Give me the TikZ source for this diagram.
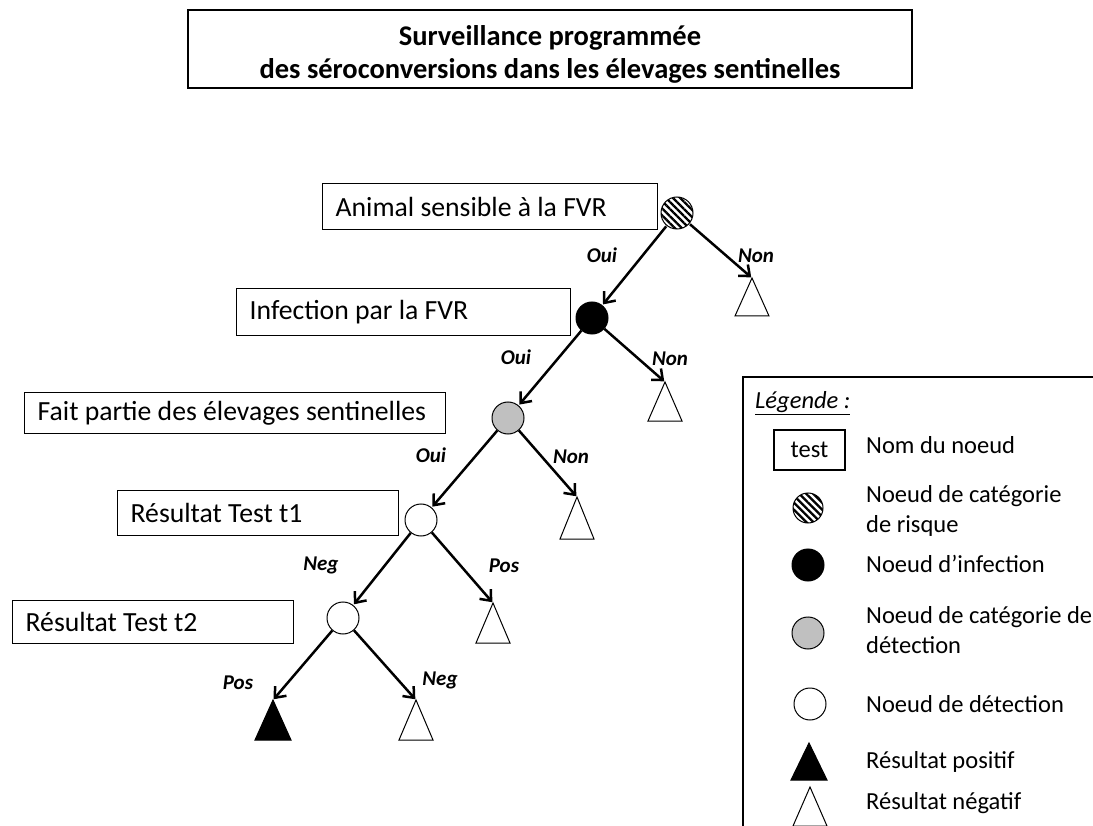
\documentclass[tikz,border=0pt]{standalone}
\usepackage{fontspec}
\setmainfont{Carlito}
\usetikzlibrary{arrows.meta,patterns.meta}
\newcommand{\boxtxt}[2]{\makebox[#1][l]{#2}}
\begin{document}
\begin{tikzpicture}[x=1pt,y=-1pt,
  namebox/.style={draw, line width=1.3pt, inner xsep=13pt, inner ysep=0pt, anchor=north west, font=\fontsize{27.7}{31}\selectfont},
  dnode/.style={circle, draw, line width=1pt, minimum size=32pt, inner sep=0pt},
  hatchnode/.style={dnode, pattern={Lines[angle=-45,distance=5pt,line width=2.3pt]}},
  infnode/.style={dnode, fill=black},
  catnode/.style={dnode, fill={rgb,255:red,192;green,192;blue,192}},
  detnode/.style={dnode, fill=white},
  arr/.style={line width=2.5pt, -{Straight Barb[length=9pt,width=15pt,line width=2.5pt]}, shorten >=1pt},
  blab/.style={font=\fontsize{21}{23}\selectfont\bfseries\itshape},
  legtxt/.style={anchor=west, align=left, inner sep=0pt, font=\fontsize{24.5}{30}\selectfont},
  tri/.style={draw, line width=1pt, fill=white, line join=miter},
  ptri/.style={draw, line width=1pt, fill=black, line join=miter}
]
\useasboundingbox (0,0) rectangle (1093,826);

% title
\draw[line width=1.3pt] (188,10) rectangle (912,88);
\node[align=center, inner sep=0pt, font=\fontsize{28.5}{33}\selectfont\bfseries] (title) at (550,54)
  {Surveillance programmée\\des séroconversions dans les élevages sentinelles};

% name boxes
\node[namebox, minimum width=335pt, minimum height=46pt] (b1) at (322,183) {\boxtxt{309pt}{Animal sensible à la FVR}};
\node[namebox, minimum width=334pt, minimum height=47pt] (b2) at (236,288) {\boxtxt{308pt}{Infection par la FVR}};
\node[namebox, minimum width=421pt, minimum height=41pt] (b3) at (24,392) {\boxtxt{395pt}{Fait partie des élevages sentinelles}};
\node[namebox, minimum width=281pt, minimum height=45pt] (b4) at (117,490) {\boxtxt{255pt}{Résultat Test t1}};
\node[namebox, minimum width=281pt, minimum height=43pt] (b5) at (12,600) {\boxtxt{255pt}{Résultat Test t2}};

% decision nodes
\node[hatchnode] (c1) at (677,213) {};
\node[infnode] (c2) at (592,318) {};
\node[catnode] (c3) at (508,418) {};
\node[detnode] (c4) at (421,520) {};
\node[detnode] (c5) at (343,618) {};

% leaf triangles (apex coordinates)
\coordinate (t1) at (752,278);
\coordinate (t2) at (665,382);
\coordinate (t3) at (577,497);
\coordinate (t4) at (493,603);
\coordinate (t5) at (273,700);
\coordinate (t6) at (416,700);
\draw[tri] (t1) -- ++(17,38) -- ++(-34,0) -- cycle;
\draw[tri] (t2) -- ++(17,39) -- ++(-34,0) -- cycle;
\draw[tri] (t3) -- ++(17,42) -- ++(-34,0) -- cycle;
\draw[tri] (t4) -- ++(17,40) -- ++(-34,0) -- cycle;
\draw[ptri] (t5) -- ++(18,40) -- ++(-36,0) -- cycle;
\draw[tri] (t6) -- ++(17,40) -- ++(-34,0) -- cycle;

% connectors
\draw[arr] (c1) -- (c2);
\draw[arr] (c1) -- (t1);
\draw[arr] (c2) -- (c3);
\draw[arr] (c2) -- (t2);
\draw[arr] (c3) -- (c4);
\draw[arr] (c3) -- (t3);
\draw[arr] (c4) -- (c5);
\draw[arr] (c4) -- (t4);
\draw[arr] (c5) -- (t5);
\draw[arr] (c5) -- (t6);

% branch labels
\node[blab] (l1) at (602,255) {Oui};
\node[blab] (l2) at (756,256) {Non};
\node[blab] (l3) at (516,357) {Oui};
\node[blab] (l4) at (670,359) {Non};
\node[blab] (l5) at (431,455) {Oui};
\node[blab] (l6) at (571,457) {Non};
\node[blab] (l7) at (321,565) {Neg};
\node[blab] (l8) at (504,566) {Pos};
\node[blab] (l9) at (238,683) {Pos};
\node[blab] (l10) at (440,680) {Neg};

% legend frame
\begin{scope}
\clip (0,0) rectangle (1093,826);
\draw[line width=1.3pt] (743,377) rectangle (1110,840);
\end{scope}
\node[anchor=west, inner sep=0pt, font=\fontsize{24.5}{28}\selectfont\itshape] (lt) at (755,403) {\underline{Légende :}};
\node[draw, line width=1.3pt, minimum width=71pt, minimum height=40pt, inner sep=0pt, font=\fontsize{24.5}{28}\selectfont] (lbox) at (809.5,450) {test};
\node[hatchnode, minimum size=30pt] (lc1) at (808,508) {};
\node[infnode] (lc2) at (808,565) {};
\node[catnode] (lc3) at (808,633) {};
\node[detnode] (lc4) at (810,704) {};
\coordinate (lt1) at (809,743);
\coordinate (lt2) at (810,787);
\draw[ptri] (lt1) -- ++(18,37) -- ++(-36,0) -- cycle;
\draw[tri] (lt2) -- ++(17,39) -- ++(-34,0) -- cycle;

\node[legtxt] (g1) at (866,445) {Nom du noeud};
\node[legtxt] (g2) at (866,511) {Noeud de catégorie\\de risque};
\node[legtxt] (g3) at (866,564) {Noeud d’infection};
\node[legtxt] (g4) at (866,630) {Noeud de catégorie de\\détection};
\node[legtxt] (g5) at (866,704) {Noeud de détection};
\node[legtxt] (g6) at (866,762) {Résultat positif};
\node[legtxt] (g7) at (866,803) {Résultat négatif};
\end{tikzpicture}
\end{document}
